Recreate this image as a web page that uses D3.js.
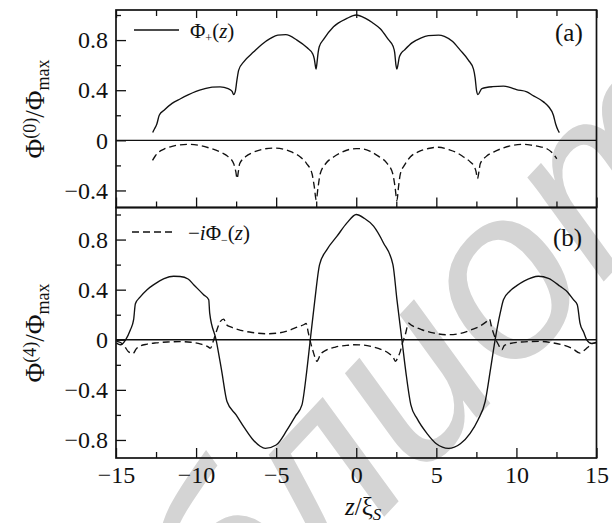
<!DOCTYPE html>
<html><head><meta charset="utf-8">
<script src="https://cdn.jsdelivr.net/npm/d3@7"></script>
<style>
body{margin:0;background:#fff}
svg{display:block}
text{font-family:"Liberation Serif","Times New Roman",serif;fill:#111}
</style>
</head><body>
<svg id="c" width="612" height="523"></svg>
<script>
// ---------- data ----------
const xMajor = [-15,-10,-5,0,5,10,15];
const xMinor = [-12.5,-7.5,-2.5,2.5,7.5,12.5];
const yMajorA = [-0.4,0,0.4,0.8];
const yMinorA = [-0.2,0.2,0.6,1.0];
const yMajorB = [-0.8,-0.4,0,0.4,0.8];
const yMinorB = [-0.6,-0.2,0.2,0.6,1.0];

// panel (a): Phi_+(z)
const zAPlus = [-12.71,-12.6,-12.45,-12.3,-12.0,-11.5,-11.0,-10.5,-10.0,-9.5,-9.0,-8.5,-8.0,-7.75,-7.65,-7.55,-7.45,-7.34,-7.0,-6.4,-5.9,-5.36,-4.9,-4.4,-3.7,-3.08,-2.72,-2.62,-2.56,-2.51,-2.45,-2.38,-2.31,-2.04,-1.42,-0.58,0,
  0.58,1.0,1.5,2.0,2.3,2.4,2.48,2.54,2.6,2.68,2.78,3.0,3.5,3.99,4.5,5.14,5.5,6.0,6.49,7.0,7.32,7.42,7.52,7.6,7.84,8.5,9.19,9.6,10.0,10.65,11.0,11.69,12.0,12.31,12.45,12.6,12.68];
const vAPlus = [0.062,0.09,0.13,0.2,0.24,0.295,0.33,0.362,0.39,0.41,0.425,0.427,0.413,0.39,0.365,0.39,0.48,0.56,0.63,0.706,0.765,0.813,0.84,0.843,0.80,0.74,0.69,0.65,0.6,0.568,0.62,0.7,0.747,0.805,0.906,0.973,1.0,
  0.973,0.94,0.89,0.805,0.75,0.7,0.6,0.568,0.6,0.66,0.69,0.72,0.78,0.813,0.835,0.84,0.83,0.79,0.72,0.64,0.568,0.5,0.39,0.365,0.413,0.428,0.432,0.422,0.405,0.387,0.36,0.307,0.27,0.2,0.13,0.08,0.062];

// panel (a): dashed
const zAMinus = [-12.72,-12.55,-12.33,-12.0,-11.5,-11.0,-10.35,-9.8,-9.2,-8.48,-8.0,-7.65,-7.52,-7.44,-7.36,-7.28,-6.9,-6.4,-5.8,-5.16,-4.5,-4.0,-3.49,-3.1,-2.76,-2.62,-2.5,-2.38,-2.25,-1.9,-1.42,-0.9,-0.4,0,
  0.4,0.9,1.4,1.9,2.28,2.42,2.54,2.64,2.75,3.0,3.37,3.9,4.5,5.14,5.8,6.3,6.7,7.1,7.32,7.48,7.57,7.66,7.74,8.1,8.57,9.2,9.8,10.44,11.0,11.5,11.9,12.2,12.4,12.52];
const vAMinus = [-0.16,-0.125,-0.094,-0.07,-0.048,-0.036,-0.032,-0.04,-0.06,-0.094,-0.13,-0.187,-0.25,-0.306,-0.25,-0.187,-0.13,-0.094,-0.07,-0.062,-0.072,-0.095,-0.133,-0.185,-0.267,-0.37,-0.475,-0.37,-0.267,-0.185,-0.133,-0.095,-0.072,-0.066,
  -0.068,-0.09,-0.128,-0.18,-0.267,-0.37,-0.48,-0.37,-0.27,-0.2,-0.133,-0.09,-0.065,-0.055,-0.075,-0.1,-0.133,-0.17,-0.2,-0.25,-0.306,-0.25,-0.187,-0.13,-0.094,-0.06,-0.04,-0.032,-0.04,-0.052,-0.067,-0.095,-0.125,-0.147];

// panel (b): solid
const zBPlus = [-14.97,-14.72,-14.4,-14.1,-13.9,-13.79,-13.5,-13.06,-12.64,-12.0,-11.4,-11.0,-10.5,-10.15,-9.53,-9.21,-9.15,-8.75,-8.4,-8.07,-7.5,-7.0,-6.5,-6.0,-5.68,-5.0,-4.32,-3.8,-3.39,-3.1,-2.87,-2.6,-2.29,-1.83,-1.2,-0.58,0,
  0.5,1.08,1.7,2.29,2.54,2.85,3.1,3.41,3.8,4.41,5.0,5.76,6.5,7.11,7.6,8.05,8.4,8.67,9.0,9.19,9.6,10.0,10.5,11.37,12.0,12.73,13.2,13.56,13.8,13.97,14.2,14.39,14.7,14.97];
const vBPlus = [-0.027,-0.04,0.0,0.08,0.16,0.288,0.34,0.4,0.44,0.488,0.507,0.505,0.485,0.44,0.36,0.32,0.213,0.0,-0.25,-0.493,-0.6,-0.7,-0.79,-0.85,-0.867,-0.84,-0.72,-0.61,-0.52,-0.26,0.0,0.3,0.6,0.72,0.827,0.933,1.0,
  0.97,0.907,0.773,0.6,0.32,0.0,-0.26,-0.52,-0.63,-0.747,-0.83,-0.867,-0.83,-0.747,-0.64,-0.493,-0.22,0.0,0.22,0.32,0.39,0.43,0.47,0.507,0.49,0.427,0.38,0.32,0.28,0.133,0.06,0.0,-0.03,-0.02];

// panel (b): -i Phi_-(z)
const zBMinus = [-14.97,-14.72,-14.45,-14.24,-13.93,-13.75,-13.5,-13.06,-12.5,-11.8,-11.0,-10.3,-9.7,-9.3,-9.1,-8.95,-8.75,-8.48,-8.28,-8.1,-7.8,-7.2,-6.5,-5.57,-4.8,-4.2,-3.7,-3.28,-3.13,-3.0,-2.87,-2.7,-2.56,-2.45,-2.35,-2.25,-1.9,-1.3,-0.6,-0.17,
  0.4,1.0,1.6,2.0,2.33,2.45,2.6,2.75,2.9,3.06,3.27,3.4,3.58,4.1,4.8,5.66,6.5,7.2,7.8,8.15,8.32,8.45,8.6,8.88,9.09,9.25,9.6,10.3,11.48,12.3,13.0,13.5,13.97,14.28,14.55,14.8,14.97];
const vBMinus = [-0.013,-0.022,-0.055,-0.093,-0.11,-0.075,-0.05,-0.035,-0.025,-0.018,-0.015,-0.02,-0.035,-0.052,-0.067,-0.02,0.06,0.147,0.165,0.12,0.1,0.075,0.058,0.048,0.055,0.075,0.1,0.12,0.13,0.06,-0.013,-0.09,-0.147,-0.173,-0.15,-0.12,-0.085,-0.058,-0.045,-0.04,
  -0.042,-0.055,-0.08,-0.105,-0.147,-0.173,-0.14,-0.093,-0.02,0.04,0.133,0.12,0.107,0.08,0.055,0.04,0.05,0.08,0.115,0.147,0.165,0.1,0.04,-0.04,-0.08,-0.045,-0.03,-0.018,-0.013,-0.025,-0.045,-0.07,-0.107,-0.08,-0.05,-0.027,-0.025];

// ---------- drawing ----------
const SERIF = "'Liberation Serif','Times New Roman',serif";
const svg = d3.select("#c");
const L = 116, R = 596.5;
const x = d3.scaleLinear().domain([-15,15]).range([L,R]);
const yA = d3.scaleLinear().domain([-0.536,1.04]).range([207.5,10]);
const yB = d3.scaleLinear().domain([-0.944,1.056]).range([458,207.5]);

// watermark (underneath)
svg.append("text")
  .attr("transform","translate(55,870) rotate(-47)")
  .style("font-family","'Liberation Sans',Arial,sans-serif")
  .style("font-style","italic")
  .style("font-size","240px")
  .style("fill","#d4d4d4")
  .text("библиотека");

const fmt = d => d === 0 ? "0" : d3.format(".1f")(d);

function styleAxis(g) {
  g.select(".domain").remove();
  g.selectAll("line").attr("stroke","#111").attr("stroke-width",1.3);
  g.selectAll("text").attr("font-family",null).style("font-family",SERIF).style("font-size","24px").attr("fill","#111");
}

function panel(y, yMaj, yMin, top, bottom, withXLabels, topTicks) {
  svg.append("line").attr("x1",L).attr("x2",R).attr("y1",y(0)).attr("y2",y(0))
    .attr("stroke","#111").attr("stroke-width",1.3);
  styleAxis(svg.append("g").attr("transform",`translate(${L},0)`)
    .call(d3.axisLeft(y).tickValues(yMaj).tickFormat(fmt).tickSizeInner(-10).tickSizeOuter(0).tickPadding(8)));
  styleAxis(svg.append("g").attr("transform",`translate(${L},0)`)
    .call(d3.axisLeft(y).tickValues(yMin).tickFormat("").tickSizeInner(-5).tickSizeOuter(0)));
  styleAxis(svg.append("g").attr("transform",`translate(0,${bottom})`)
    .call(d3.axisBottom(x).tickValues(xMajor).tickFormat(withXLabels ? (d => d3.format("d")(d)) : "").tickSizeInner(-10).tickSizeOuter(0).tickPadding(8)));
  styleAxis(svg.append("g").attr("transform",`translate(0,${bottom})`)
    .call(d3.axisBottom(x).tickValues(xMinor).tickFormat("").tickSizeInner(-6).tickSizeOuter(0)));
  if (topTicks) {
    styleAxis(svg.append("g").attr("transform",`translate(0,${top})`)
      .call(d3.axisTop(x).tickValues(xMajor).tickFormat("").tickSizeInner(-8).tickSizeOuter(0)));
    styleAxis(svg.append("g").attr("transform",`translate(0,${top})`)
      .call(d3.axisTop(x).tickValues(xMinor).tickFormat("").tickSizeInner(-6).tickSizeOuter(0)));
  }
  svg.append("rect").attr("x",L).attr("y",top).attr("width",R-L).attr("height",bottom-top)
    .attr("fill","none").attr("stroke","#111").attr("stroke-width",1.7);
}

panel(yA, yMajorA, yMinorA, 10, 207.5, false, true);
panel(yB, yMajorB, yMinorB, 207.5, 458, true, false);

function curve(zs, vs, y, dashed) {
  const pts = zs.map((z,i)=>[z, vs[i]]);
  const line = d3.line().x(d=>x(d[0])).y(d=>y(d[1])).curve(d3.curveMonotoneX);
  svg.append("path").attr("d", line(pts)).attr("fill","none")
    .attr("stroke","#111").attr("stroke-width",1.35)
    .attr("stroke-dasharray", dashed ? "7,4" : null);
}
curve(zAPlus, vAPlus, yA, false);
curve(zAMinus, vAMinus, yA, true);
curve(zBPlus, vBPlus, yB, false);
curve(zBMinus, vBMinus, yB, true);

// legends
svg.append("line").attr("x1",134).attr("x2",179).attr("y1",30).attr("y2",30)
  .attr("stroke","#111").attr("stroke-width",1.3);
const la = svg.append("text").attr("x",190).attr("y",38).style("font-size","21px");
la.append("tspan").text("Φ");
la.append("tspan").text("+").style("font-size","12px").attr("baseline-shift","-30%");
la.append("tspan").text("(");
la.append("tspan").text("z").style("font-style","italic");
la.append("tspan").text(")");

svg.append("line").attr("x1",132).attr("x2",172).attr("y1",232).attr("y2",232)
  .attr("stroke","#111").attr("stroke-width",1.3).attr("stroke-dasharray","7,4");
const lb = svg.append("text").attr("x",188).attr("y",240).style("font-size","21px");
lb.append("tspan").text("−");
lb.append("tspan").text("i").style("font-style","italic");
lb.append("tspan").text("Φ");
lb.append("tspan").text("−").style("font-size","12px").attr("baseline-shift","-30%");
lb.append("tspan").text("(");
lb.append("tspan").text("z").style("font-style","italic");
lb.append("tspan").text(")");

// panel labels
svg.append("text").attr("x",555).attr("y",41).style("font-size","25px").text("(a)");
svg.append("text").attr("x",553).attr("y",246).style("font-size","25px").text("(b)");

// y titles
function ytitle(cy, sup) {
  const t = svg.append("text").attr("transform",`translate(44,${cy}) rotate(-90)`)
    .attr("text-anchor","middle").style("font-size","27px");
  t.append("tspan").text("Φ");
  t.append("tspan").text(sup).style("font-size","18px").attr("baseline-shift","45%");
  t.append("tspan").text("/Φ");
  t.append("tspan").text("max").style("font-size","18px").attr("baseline-shift","-28%");
}
ytitle(109, "(0)");
ytitle(333, "(4)");

// x title
const xt = svg.append("text").attr("x",345).attr("y",515).style("font-size","25px");
xt.append("tspan").text("z").style("font-style","italic");
xt.append("tspan").text("/ξ");
xt.append("tspan").text("S").style("font-style","italic").style("font-size","17px").attr("baseline-shift","-30%");
</script>
</body></html>
